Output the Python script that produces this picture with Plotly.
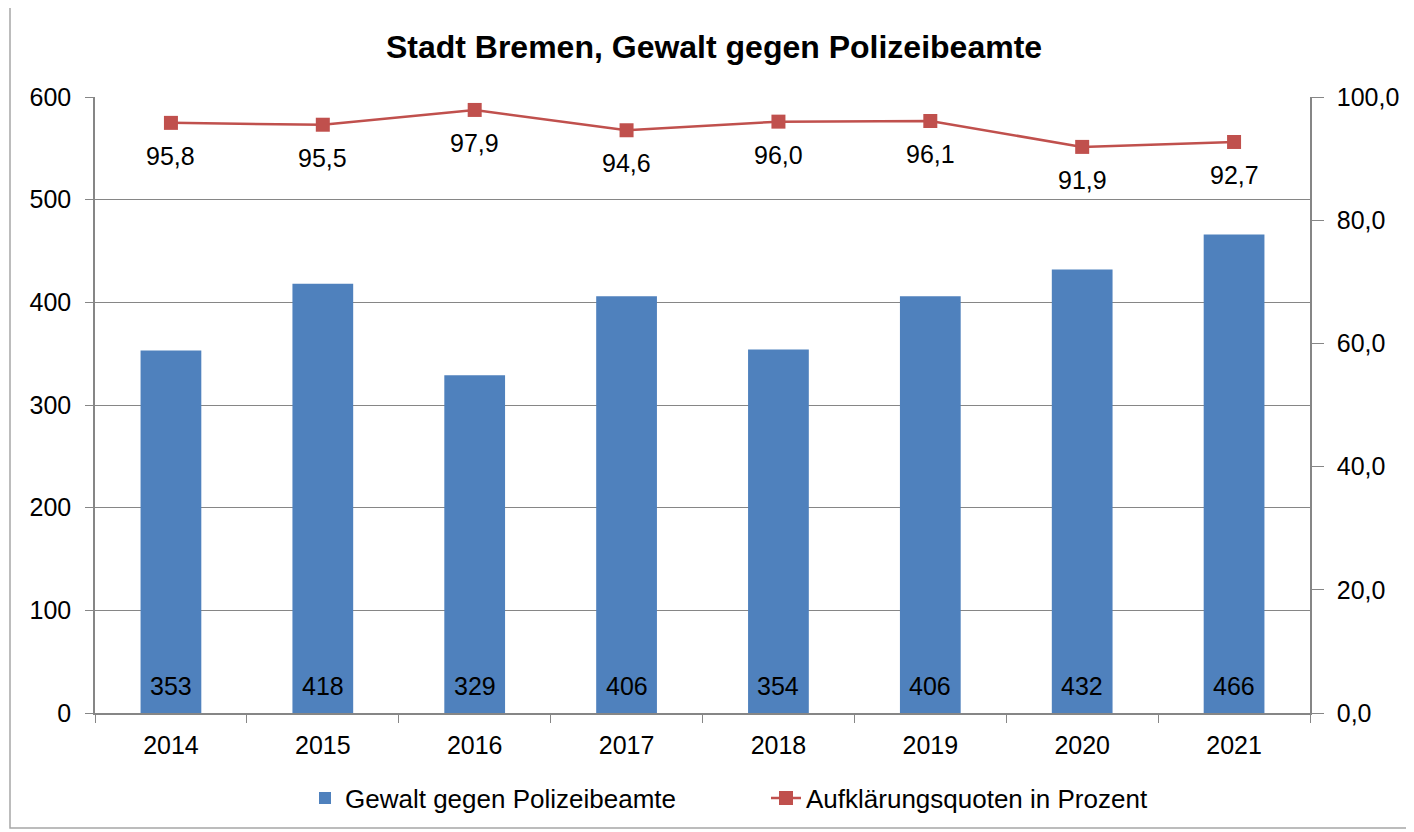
import plotly.graph_objects as go

years = ["2014", "2015", "2016", "2017", "2018", "2019", "2020", "2021"]
cases = [353, 418, 329, 406, 354, 406, 432, 466]
clearance = [95.8, 95.5, 97.9, 94.6, 96.0, 96.1, 91.9, 92.7]

bar_name = "Gewalt gegen Polizeibeamte"
line_name = "Aufklärungsquoten in Prozent"
title = "Stadt Bremen, Gewalt gegen Polizeibeamte"

FONT = "Liberation Sans, Arial, sans-serif"
GRID = "#868686"
FS = 25

# page body has an 8px margin; compensate
W, H = 1414 - 8, 832 - 8
L, T = 95 - 8, 97 - 8
PW, PH = 1215, 616

fig = go.Figure()
fig.add_trace(go.Bar(
    x=years, y=cases, name=bar_name,
    marker=dict(color="#4F81BD", line=dict(width=0)),
    width=0.4,
))
fig.add_trace(go.Scatter(
    x=years, y=clearance, name=line_name, yaxis="y2",
    mode="lines+markers",
    line=dict(color="#C0504D", width=2.5),
    marker=dict(symbol="square", size=14, color="#C0504D"),
    cliponaxis=False,
))

annotations = [
    dict(x=i, y=v, xref="x", yref="y2", text=f"{v:.1f}".replace(".", ","),
         showarrow=False, yshift=-33, font=dict(size=FS, family=FONT, color="black"))
    for i, v in enumerate(clearance)
] + [
    dict(x=i, y=0, xref="x", yref="y", text=str(v),
         showarrow=False, yshift=27, font=dict(size=FS, family=FONT, color="black"))
    for i, v in enumerate(cases)
]

fig.update_layout(
    width=W, height=H,
    margin=dict(l=L, r=W - L - PW, t=T, b=H - T - PH, autoexpand=False),
    paper_bgcolor="white", plot_bgcolor="white",
    separators=",.",
    font=dict(family=FONT, size=FS, color="black"),
    title=dict(text="<b>" + title + "</b>", x=(714 - 8) / W, xanchor="center",
               y=1 - (47 - 8) / H, yanchor="middle",
               font=dict(size=32, family=FONT, color="black")),
    showlegend=True,
    legend=dict(orientation="h", x=(305 - 95) / PW, xanchor="left",
                y=(713 - 798) / PH, yanchor="middle", entrywidth=416,
                font=dict(size=26, family=FONT), traceorder="normal"),
    annotations=annotations,
    xaxis=dict(type="category", tickson="boundaries", ticks="outside", ticklen=8,
               tickcolor=GRID, showline=True, linecolor=GRID, linewidth=1.5,
               showgrid=False, tickfont=dict(size=FS), ticklabelstandoff=9,
               range=[-0.5, 7.5]),
    yaxis=dict(range=[0, 600], dtick=100, ticks="outside", ticklen=8, tickcolor=GRID,
               showline=True, linecolor=GRID, linewidth=1.5,
               showgrid=True, gridcolor=GRID, gridwidth=1, zeroline=False,
               tickfont=dict(size=FS), ticklabelstandoff=9),
    yaxis2=dict(range=[0, 100], dtick=20, tickformat=".1f", overlaying="y", side="right",
                ticks="outside", ticklen=12, tickcolor=GRID,
                showline=True, linecolor=GRID, linewidth=1.5,
                showgrid=False, zeroline=False, tickfont=dict(size=FS),
                ticklabelstandoff=8),
    shapes=[dict(type="rect", xref="paper", yref="paper",
                 x0=(10 - 95) / PW, x1=(1410 - 95) / PW,
                 y0=(713 - 828) / PH, y1=(713 - 5) / PH,
                 line=dict(color="#A6A6A6", width=1.5), fillcolor="rgba(0,0,0,0)",
                 layer="below")],
)

fig.write_html("out.html")
